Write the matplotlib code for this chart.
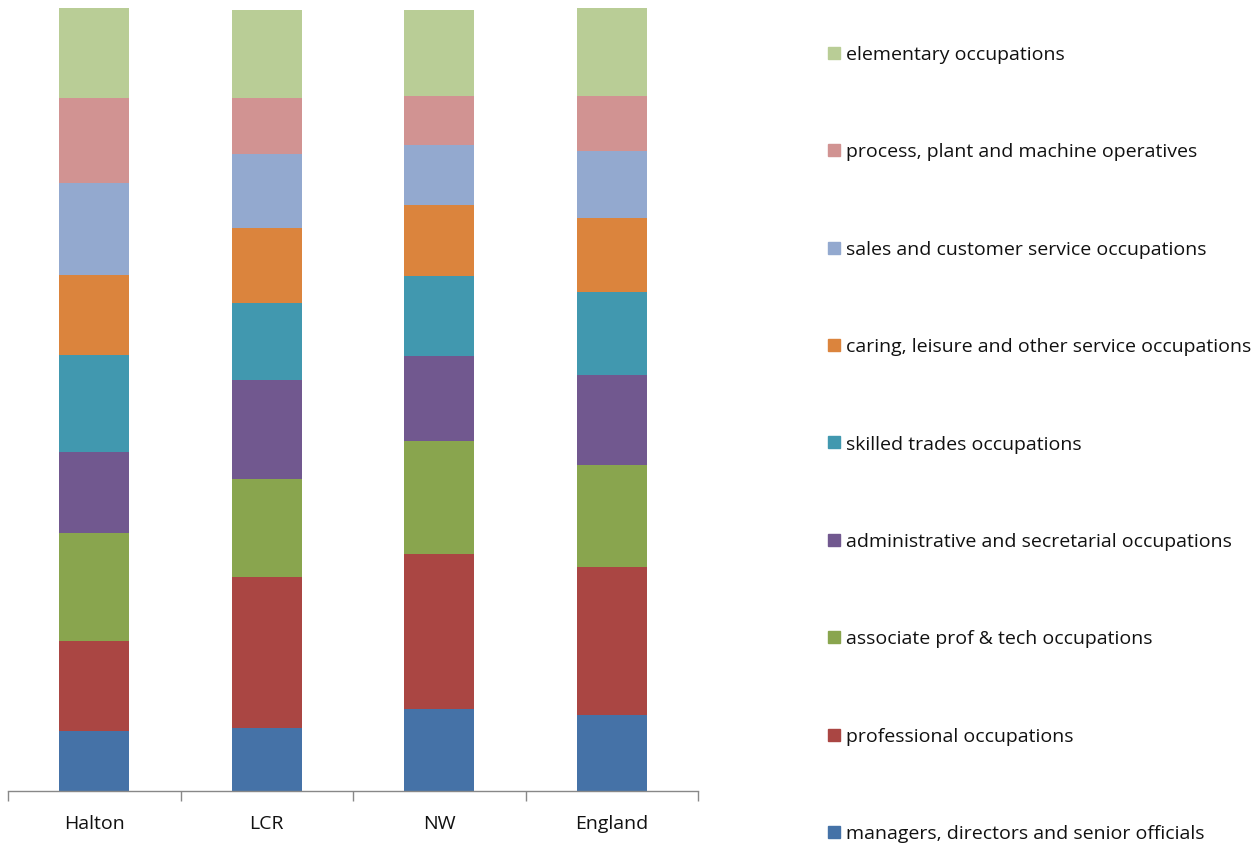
import numpy as np
import matplotlib.pyplot as plt
from matplotlib.patches import Rectangle

areas = ["Halton", "LCR", "NW", "England"]

occupations = [
    "managers, directors and senior officials",
    "professional occupations",
    "associate prof & tech occupations",
    "administrative and secretarial occupations",
    "skilled trades occupations",
    "caring, leisure and other service occupations",
    "sales and customer service occupations",
    "process, plant and machine operatives",
    "elementary occupations",
]

# share of employment (%) by occupation group, bottom to top
managers = [7.7, 8.0, 10.5, 9.7]
professional = [11.5, 19.3, 19.8, 18.9]
associate = [13.7, 12.6, 14.4, 13.0]
admin = [10.4, 12.6, 10.8, 11.5]
skilled = [12.4, 9.8, 10.3, 10.6]
caring = [10.2, 9.6, 9.1, 9.5]
sales = [11.7, 9.4, 7.6, 8.6]
process = [10.9, 7.2, 6.3, 7.0]
elementary = [11.6, 11.2, 10.9, 11.2]

series = [managers, professional, associate, admin, skilled,
          caring, sales, process, elementary]

colors = ["#4572A7", "#AA4643", "#89A54E", "#71588F", "#4198AF",
          "#DB843D", "#93A9CF", "#D19392", "#B9CD96"]

plt.rcParams['font.family'] = ['Open Sans', 'DejaVu Sans']

fig = plt.figure(figsize=(12.58, 8.46), dpi=100)
W, H = 1258, 846
ax = fig.add_axes([8 / W, (H - 791) / H, 690 / W, 783 / H])

x = np.arange(len(areas))
bottom = np.zeros(len(areas))
for vals, col in zip(series, colors):
    ax.bar(x, vals, width=0.405, bottom=bottom, color=col, linewidth=0)
    bottom += np.array(vals)

ax.set_xlim(-0.5, len(areas) - 0.5)
ax.set_ylim(0, 100)
for side in ["left", "right", "top"]:
    ax.spines[side].set_visible(False)
ax.spines["bottom"].set_color("#888888")
ax.spines["bottom"].set_linewidth(1)
ax.set_yticks([])
ax.set_xticks(x)
ax.set_xticklabels(areas, fontsize=14, color="#111111")
ax.tick_params(axis="x", which="major", length=0, pad=17)
ax.set_xticks(np.arange(-0.5, len(areas)), minor=True)
ax.tick_params(axis="x", which="minor", length=7, color="#888888", width=1)

# legend on the right, top entry is the top segment
legend_y = np.linspace(53, 832, len(occupations))
for yy, name, col in zip(legend_y, occupations[::-1], colors[::-1]):
    fig.patches.append(Rectangle((828 / W, (H - yy - 6) / H), 12 / W, 12 / H,
                                 transform=fig.transFigure, color=col))
    fig.text(846 / W, (H - yy - 2) / H, name, fontsize=14, va="center",
             ha="left", color="#111111")

fig.savefig("out.png", dpi=100)
